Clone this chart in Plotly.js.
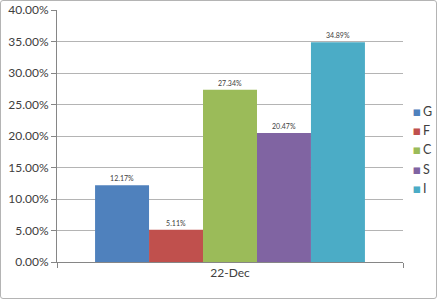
<!DOCTYPE html>
<html>
<head>
<meta charset="utf-8">
<script src="https://cdn.plot.ly/plotly-3.0.1.min.js"></script>
<style>
html,body{margin:0;padding:0;background:#fff;}
#frame{position:absolute;left:0;top:0;width:435px;height:297px;border:1px solid #b4b4b4;border-radius:3px;}
#chart{position:absolute;left:0;top:0;width:437px;height:300px;}
</style>
</head>
<body>
<div id="chart"></div>
<div id="frame"></div>
<script>
const category = ['22-Dec'];
const seriesNames = ['G', 'F', 'C', 'S', 'I'];
const seriesValues = [0.1217, 0.0511, 0.2734, 0.2047, 0.3489];
const seriesColors = ['#4F81BD', '#C0504D', '#9BBB59', '#8064A2', '#4BACC6'];

const font = 'Lato, "Open Sans", "Liberation Sans", sans-serif';
const traces = [];
seriesNames.forEach((n, i) => {
  traces.push({
    type: 'bar', name: n, x: category, y: [seriesValues[i]],
    marker: {color: seriesColors[i]},
    texttemplate: '%{y:.2%}', textposition: 'outside',
    textfont: {size: 7, color: '#404040', family: font},
    cliponaxis: false, showlegend: false, hoverinfo: 'none'
  });
});
seriesNames.forEach((n, i) => {
  traces.push({
    type: 'scatter', mode: 'markers',
    name: '<span style="color:' + seriesColors[i] + ';font-family:DejaVu Sans;font-size:13px">▪</span>\u2009' + n,
    x: [null], y: [null],
    marker: {color: 'rgba(0,0,0,0)', symbol: 'square', size: 1, line: {width: 0}},
    showlegend: true, hoverinfo: 'none'
  });
});

const layout = {
  width: 437, height: 300,
  margin: {l: 57, r: 34, t: 10, b: 38, autoexpand: false},
  paper_bgcolor: '#ffffff', plot_bgcolor: '#ffffff',
  font: {family: font, color: '#404040', size: 12},
  barmode: 'group', bargap: 0.22, bargroupgap: 0,
  showlegend: true,
  legend: {x: 0.912, xanchor: 'left', y: 0.445, yanchor: 'middle',
           font: {size: 12.5, color: '#404040'}, itemwidth: 30,
           tracegroupgap: 0, bgcolor: 'rgba(0,0,0,0)'},
  xaxis: {type: 'category', showline: true, linecolor: '#868686', linewidth: 1,
          ticks: 'outside', tickson: 'boundaries', ticklen: 5, tickcolor: '#868686',
          showgrid: false, tickfont: {size: 12, color: '#404040'}, fixedrange: true},
  yaxis: {range: [0, 0.4], dtick: 0.05, tickformat: '.2%', showline: true,
          linecolor: '#868686', linewidth: 1, ticks: 'outside', ticklen: 5,
          tickcolor: '#868686', gridcolor: '#b4b4b4', gridwidth: 1,
          zeroline: false, tickfont: {size: 12, color: '#404040'}, fixedrange: true}
};
Plotly.newPlot('chart', traces, layout, {displayModeBar: false, staticPlot: true});
</script>
</body>
</html>
